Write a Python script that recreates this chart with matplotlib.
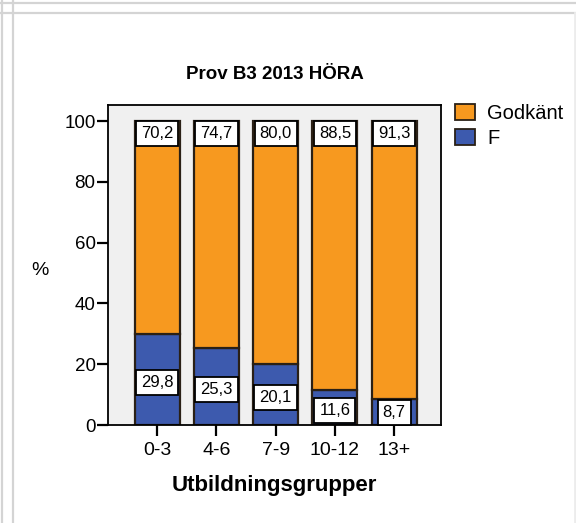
import numpy as np
import matplotlib
matplotlib.use("Agg")
import matplotlib.pyplot as plt
from matplotlib.lines import Line2D

plt.rcParams['font.family'] = ['Liberation Sans', 'DejaVu Sans']

groups = ['0-3', '4-6', '7-9', '10-12', '13+']
f_values = [29.8, 25.3, 20.1, 11.6, 8.7]
godkant_values = [70.2, 74.7, 80.0, 88.5, 91.3]
series_names = ['Godkänt', 'F']
yticks = [0, 20, 40, 60, 80, 100]

orange = '#f7991f'
blue = '#3d5aae'
edge = '#2a2016'

def fmt(v):
    # swedish decimal comma
    return ('%.1f' % v).replace('.', ',')

fig = plt.figure(figsize=(5.76, 5.23), dpi=100)
ax = fig.add_axes([108/576, 1 - 425/523, 333/576, 320/523])
ax.set_facecolor('#f0f0f0')

x = np.arange(len(groups))
ax.bar(x, f_values, width=0.76, color=blue, edgecolor=edge, linewidth=1.6)
ax.bar(x, godkant_values, width=0.76, bottom=f_values, color=orange,
       edgecolor=edge, linewidth=1.6)

box = dict(boxstyle='square,pad=0.3', facecolor='white', edgecolor='black', linewidth=1.3)
for i in range(len(groups)):
    ax.text(x[i], 96, fmt(godkant_values[i]), ha='center', va='center',
            fontsize=12, bbox=box, zorder=5, clip_on=False)
    ax.text(x[i], max(f_values[i] / 2 - 1, 4.0), fmt(f_values[i]), ha='center', va='center',
            fontsize=12, bbox=box, zorder=5, clip_on=False)

ax.set_xlim(-0.83, 4.79)
ax.set_ylim(0, 105.3)
ax.set_xticks(x)
ax.set_xticklabels(groups)
ax.set_yticks(yticks)
ax.tick_params(axis='y', labelsize=13.5, length=8, width=1.6, color='black', pad=1)
ax.tick_params(axis='x', labelsize=14, length=8, width=1.6, color='black', pad=4)
for s in ax.spines.values():
    s.set_linewidth(1.3)

ax.set_title('Prov B3 2013 HÖRA', fontsize=13.5, fontweight='bold', pad=19)
ax.set_xlabel('Utbildningsgrupper', fontsize=16, fontweight='bold', labelpad=12)
ax.set_ylabel('%', fontsize=14, rotation=0, va='center', ha='center')
ax.yaxis.set_label_coords(-0.204, 0.484)

handles = [plt.Rectangle((0, 0), 1, 1, facecolor=orange, edgecolor=edge, linewidth=1.3),
           plt.Rectangle((0, 0), 1, 1, facecolor=blue, edgecolor=edge, linewidth=1.3)]
fig.legend(handles, series_names, loc='upper left', bbox_to_anchor=(455/576, 1 - 104/523),
           frameon=False, fontsize=14.5, handlelength=1.0, handleheight=0.85,
           handletextpad=0.6, labelspacing=0.3, borderaxespad=0, borderpad=0)

# outer frame lines
for yy in [1 - 3/523, 1 - 13/523]:
    fig.add_artist(Line2D([0, 1], [yy, yy], color='#d4d4d4', linewidth=1.6))
for xx in [2/576, 13/576]:
    fig.add_artist(Line2D([xx, xx], [0, 1], color='#d4d4d4', linewidth=1.6))
fig.add_artist(Line2D([575/576, 575/576], [0, 1 - 13/523], color='#ececec', linewidth=2))

fig.savefig('out.png', dpi=100)
